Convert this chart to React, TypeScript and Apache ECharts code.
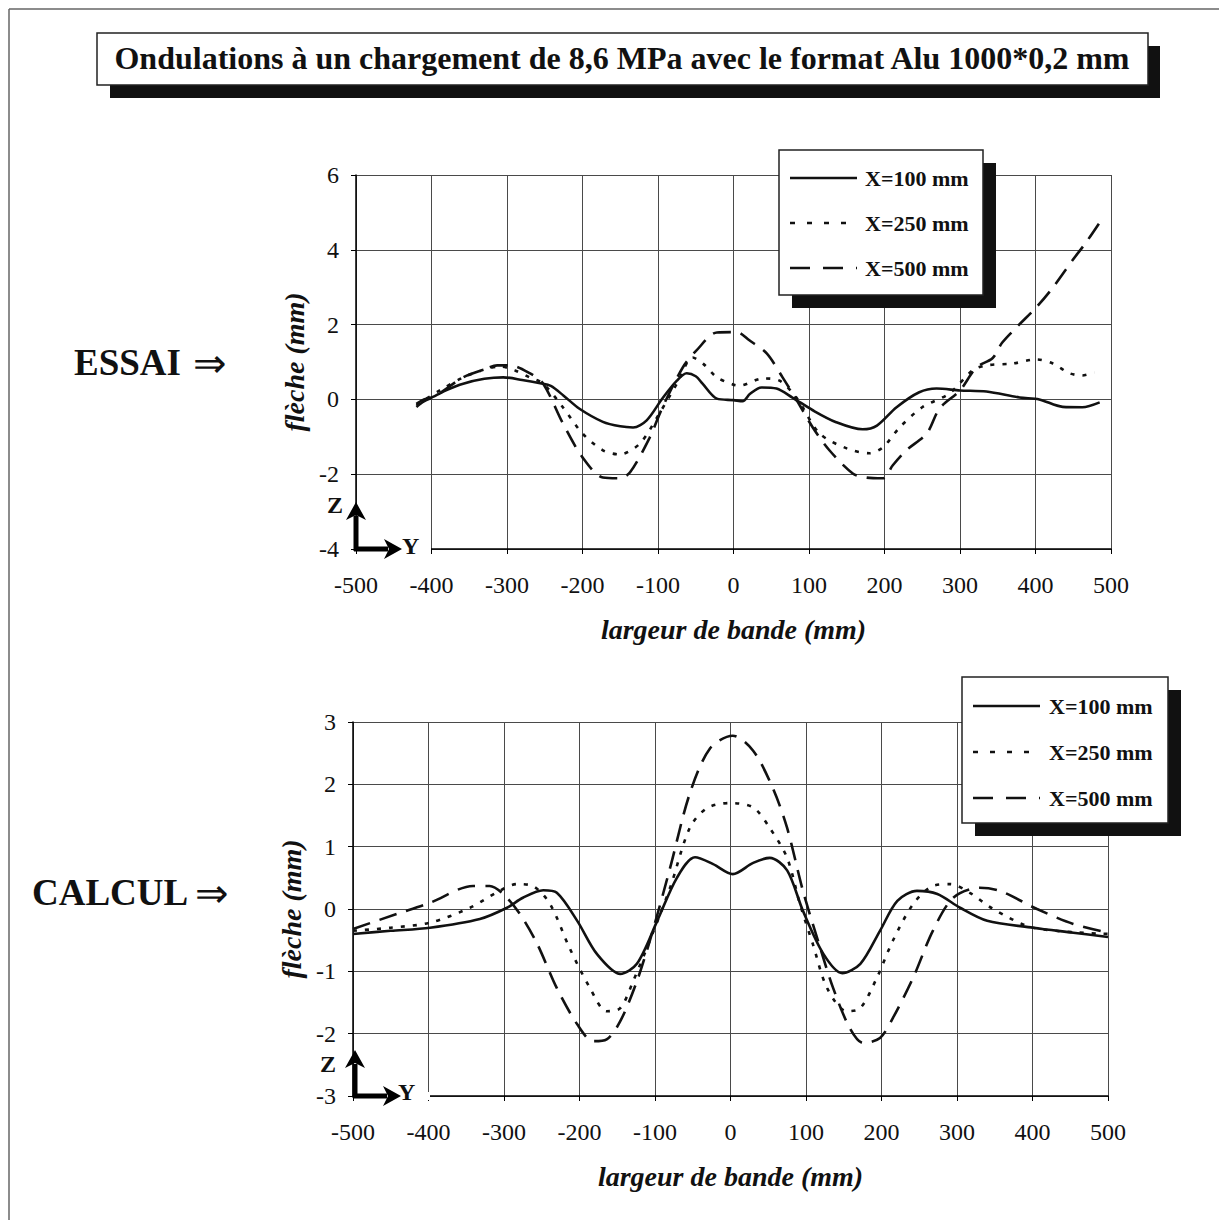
import React, { useEffect, useRef } from "react";
import * as echarts from "echarts";

const TITLE = "Ondulations à un chargement de 8,6 MPa avec le format Alu 1000*0,2 mm";
const SERIES_NAMES = ["X=100 mm", "X=250 mm", "X=500 mm"];
const X_AXIS_NAME = "largeur de bande (mm)";
const Y_AXIS_NAME = "flèche (mm)";

// ESSAI (measured)
const essai100: [number, number][] = [
  [-420, -0.12], [-410, 0.0], [-400, 0.05], [-380, 0.25], [-358, 0.42], [-330, 0.55], [-305, 0.59],
  [-280, 0.52], [-256, 0.43], [-242, 0.36], [-225, 0.1], [-204, -0.25], [-173, -0.6], [-150, -0.72],
  [-133, -0.75], [-115, -0.56], [-94, 0.03], [-75, 0.5], [-62, 0.7], [-50, 0.62], [-41, 0.42],
  [-22, 0.02], [0, -0.02], [12, -0.05], [22, 0.15], [37, 0.32], [57, 0.29], [78, 0.05], [105, -0.29],
  [136, -0.61], [171, -0.8], [190, -0.7], [216, -0.21], [246, 0.19], [269, 0.29], [300, 0.24],
  [335, 0.21], [379, 0.05], [405, 0.0], [436, -0.2], [462, -0.21], [485, -0.08],
];
const essai250: [number, number][] = [
  [-420, -0.15], [-410, -0.02], [-389, 0.24], [-358, 0.59], [-330, 0.8], [-309, 0.88], [-290, 0.78],
  [-270, 0.59], [-252, 0.42], [-226, -0.21], [-200, -0.91], [-173, -1.36], [-151, -1.47],
  [-124, -1.18], [-98, -0.37], [-75, 0.42], [-54, 1.12], [-40, 0.95], [-22, 0.59], [-1, 0.4],
  [8, 0.37], [39, 0.56], [61, 0.5], [84, 0.03], [114, -0.91], [150, -1.31], [180, -1.44],
  [198, -1.28], [220, -0.75], [250, -0.21], [286, 0.16], [317, 0.78], [335, 0.91], [370, 0.96],
  [401, 1.07], [423, 0.96], [445, 0.7], [462, 0.64], [478, 0.72],
];
const essai500: [number, number][] = [
  [-420, -0.2], [-410, -0.05], [-393, 0.11], [-358, 0.59], [-330, 0.8], [-313, 0.91], [-296, 0.91],
  [-270, 0.7], [-252, 0.42], [-226, -0.64], [-200, -1.55], [-173, -2.09], [-151, -2.11],
  [-137, -1.95], [-111, -1.02], [-94, -0.21], [-67, 0.86], [-49, 1.31], [-22, 1.79], [4, 1.8],
  [21, 1.58], [44, 1.23], [65, 0.59], [84, -0.03], [105, -0.75], [127, -1.36], [158, -1.98],
  [176, -2.09], [198, -2.11], [211, -1.76], [229, -1.36], [256, -0.91], [273, -0.24], [300, 0.24],
  [322, 0.86], [343, 1.1], [356, 1.52], [375, 1.93], [401, 2.46], [423, 2.99], [449, 3.72],
  [467, 4.2], [485, 4.73],
];

// CALCUL (computed)
const calcul100: [number, number][] = [
  [-500, -0.4], [-450, -0.35], [-398, -0.3], [-332, -0.16], [-296, 0.02], [-275, 0.18], [-248, 0.3],
  [-230, 0.26], [-203, -0.19], [-177, -0.72], [-146, -1.04], [-124, -0.88], [-97, -0.19],
  [-71, 0.5], [-47, 0.83], [-23, 0.72], [3, 0.56], [30, 0.74], [52, 0.82], [75, 0.62], [96, -0.03],
  [123, -0.72], [148, -1.03], [172, -0.88], [198, -0.35], [221, 0.13], [247, 0.29], [274, 0.24],
  [304, 0.02], [340, -0.19], [401, -0.3], [454, -0.38], [500, -0.45],
];
const calcul250: [number, number][] = [
  [-500, -0.35], [-450, -0.3], [-398, -0.22], [-345, 0.02], [-309, 0.27], [-283, 0.4], [-262, 0.37],
  [-239, 0.08], [-213, -0.63], [-186, -1.27], [-164, -1.64], [-146, -1.59], [-129, -1.16],
  [-107, -0.51], [-80, 0.34], [-54, 1.3], [-31, 1.62], [-1, 1.7], [30, 1.63], [52, 1.3], [75, 0.82],
  [92, 0.08], [109, -0.56], [128, -1.27], [154, -1.64], [172, -1.59], [194, -1.1], [215, -0.51],
  [242, 0.08], [268, 0.37], [291, 0.4], [317, 0.26], [348, 0.0], [401, -0.3], [500, -0.4],
];
const calcul500: [number, number][] = [
  [-500, -0.32], [-442, -0.08], [-398, 0.1], [-341, 0.37], [-319, 0.37], [-301, 0.24], [-279, -0.08],
  [-256, -0.56], [-230, -1.27], [-203, -1.85], [-182, -2.12], [-164, -2.09], [-146, -1.8],
  [-124, -1.16], [-103, -0.35], [-80, 0.66], [-54, 1.85], [-27, 2.58], [3, 2.78], [30, 2.54],
  [56, 1.94], [75, 1.3], [96, 0.29], [119, -0.63], [136, -1.27], [158, -1.91], [176, -2.15],
  [198, -2.07], [215, -1.75], [242, -1.1], [268, -0.35], [295, 0.18], [330, 0.34], [357, 0.29],
  [406, 0.0], [454, -0.24], [500, -0.38],
];

const X_MIN = -500, X_MAX = 500, X_STEP = 100;
const Y1_MIN = -4, Y1_MAX = 6, Y1_STEP = 2;
const Y2_MIN = -3, Y2_MAX = 3, Y2_STEP = 1;

const FONT = '"Liberation Serif", "Times New Roman", serif';
const LINE_TYPES: any[] = ["solid", [4, 8], [18, 10]];
const LEGEND_DASH: any[] = [null, [5, 12], [20, 13]];

export default function App() {
  const ref = useRef<HTMLDivElement>(null);
  useEffect(() => {
    document.body.style.margin = "0";
    const chart = echarts.init(ref.current!, undefined, { renderer: "svg" });

    const xAxisBase = (gridIndex: number, nameGap: number) => ({
      gridIndex,
      type: "value",
      min: X_MIN,
      max: X_MAX,
      interval: X_STEP,
      name: X_AXIS_NAME,
      nameLocation: "middle",
      nameGap,
      nameTextStyle: { fontFamily: FONT, fontSize: 28, fontWeight: "bold", fontStyle: "italic", color: "#111" },
      axisLine: { show: true, onZero: false, lineStyle: { color: "#000", width: 1.5 } },
      axisTick: { show: true, length: 5, lineStyle: { color: "#000" } },
      axisLabel: { fontFamily: FONT, fontSize: 24, color: "#111", margin: 24 },
      splitLine: { show: true, lineStyle: { color: "#4a4a4a", width: 1 } },
    });
    const yAxisBase = (gridIndex: number, min: number, max: number, interval: number) => ({
      gridIndex,
      type: "value",
      min,
      max,
      interval,
      name: Y_AXIS_NAME,
      nameLocation: "middle",
      nameGap: 48,
      nameRotate: 90,
      nameTextStyle: { fontFamily: FONT, fontSize: 28, fontWeight: "bold", fontStyle: "italic", color: "#111" },
      axisLine: { show: true, onZero: false, lineStyle: { color: "#000", width: 1.5 } },
      axisTick: { show: true, length: 5, lineStyle: { color: "#000" } },
      axisLabel: { fontFamily: FONT, fontSize: 24, color: "#111", margin: 17 },
      splitLine: { show: true, lineStyle: { color: "#4a4a4a", width: 1 } },
    });

    const mk = (data: [number, number][], idx: number, axis: number) => ({
      type: "line",
      name: SERIES_NAMES[idx],
      xAxisIndex: axis,
      yAxisIndex: axis,
      data,
      symbol: "none",
      showSymbol: false,
      smooth: 0.3,
      lineStyle: { color: "#111", width: 2.6, type: LINE_TYPES[idx] },
      itemStyle: { color: "#111" },
      z: 2,
    });

    const legendBox = (bx: number, by: number, w: number, h: number, lineX: number, textX: number, ys: number[]) => {
      const els: any[] = [
        { type: "rect", z: 3, shape: { x: bx + 13, y: by + 13, width: w, height: h }, style: { fill: "#111" } },
        { type: "rect", z: 3, shape: { x: bx, y: by, width: w, height: h }, style: { fill: "#fff", stroke: "#222", lineWidth: 1.5 } },
      ];
      SERIES_NAMES.forEach((name, i) => {
        const st: any = { stroke: "#111", lineWidth: 2.6 };
        if (LEGEND_DASH[i]) st.lineDash = LEGEND_DASH[i];
        els.push({ type: "line", z: 4, shape: { x1: lineX, y1: ys[i], x2: lineX + 67, y2: ys[i] }, style: st });
        els.push({ type: "text", z: 4, style: { text: name, x: textX, y: ys[i], font: `bold 22px ${FONT}`, fill: "#111", textAlign: "left", textVerticalAlign: "middle" } });
      });
      return els;
    };

    const arrowGroup = (ox: number, oy: number, ztop: number, zLabel: [number, number], yLabel: [number, number]) => [
      { type: "rect", z: 8, shape: { x: ox + 3, y: oy - 4, width: 72, height: 8 }, style: { fill: "#fff" } },
      { type: "line", z: 10, shape: { x1: ox, y1: oy + 2, x2: ox, y2: ztop + 14 }, style: { stroke: "#000", lineWidth: 5 } },
      { type: "polygon", z: 10, shape: { points: [[ox, ztop], [ox - 10, ztop + 18], [ox, ztop + 13], [ox + 10, ztop + 18]] }, style: { fill: "#000" } },
      { type: "line", z: 10, shape: { x1: ox - 2, y1: oy, x2: ox + 32, y2: oy }, style: { stroke: "#000", lineWidth: 5 } },
      { type: "polygon", z: 10, shape: { points: [[ox + 46, oy], [ox + 28, oy - 10], [ox + 33, oy], [ox + 28, oy + 10]] }, style: { fill: "#000" } },
      { type: "text", z: 10, style: { text: "Z", x: zLabel[0], y: zLabel[1], font: `bold 24px ${FONT}`, fill: "#111", textAlign: "left", textVerticalAlign: "middle" } },
      { type: "text", z: 10, style: { text: "Y", x: yLabel[0], y: yLabel[1], font: `bold 24px ${FONT}`, fill: "#111", textAlign: "left", textVerticalAlign: "middle" } },
    ];

    const sideLabel = (word: string, x: number, arrowX: number, y: number) => [
      { type: "text", z: 4, style: { text: word, x, y, font: `bold 37px ${FONT}`, fill: "#111", textAlign: "left", textVerticalAlign: "middle" } },
      { type: "text", z: 4, style: { text: "⇒", x: arrowX, y: y + 1, font: `40px ${FONT}`, fill: "#111", textAlign: "left", textVerticalAlign: "middle" } },
    ];

    const option: any = {
      animation: false,
      backgroundColor: "#fff",
      grid: [
        { left: 356, top: 175, width: 755, height: 374 },
        { left: 353, top: 722, width: 755, height: 374 },
      ],
      xAxis: [xAxisBase(0, 66), xAxisBase(1, 66)],
      yAxis: [yAxisBase(0, Y1_MIN, Y1_MAX, Y1_STEP), yAxisBase(1, Y2_MIN, Y2_MAX, Y2_STEP)],
      series: [
        mk(essai100, 0, 0), mk(essai250, 1, 0), mk(essai500, 2, 0),
        mk(calcul100, 0, 1), mk(calcul250, 1, 1), mk(calcul500, 2, 1),
      ],
      graphic: [
        { type: "line", z: 1, shape: { x1: 9, y1: 9, x2: 1219, y2: 9 }, style: { stroke: "#666", lineWidth: 1.5 } },
        { type: "line", z: 1, shape: { x1: 9, y1: 9, x2: 9, y2: 1220 }, style: { stroke: "#666", lineWidth: 1.5 } },
        { type: "rect", z: 3, shape: { x: 110, y: 46, width: 1050, height: 52 }, style: { fill: "#111" } },
        { type: "rect", z: 3, shape: { x: 97, y: 33, width: 1051, height: 52 }, style: { fill: "#fff", stroke: "#222", lineWidth: 1.5 } },
        { type: "text", z: 4, style: { text: TITLE, x: 622, y: 58, font: `bold 32px ${FONT}`, fill: "#111", textAlign: "center", textVerticalAlign: "middle" } },
        ...legendBox(779, 150, 204, 145, 790, 865, [178, 223, 268]),
        ...legendBox(962, 677, 206, 146, 973, 1049, [706, 752, 798]),
        ...sideLabel("ESSAI", 74, 193, 362),
        ...sideLabel("CALCUL", 32, 195, 892),
        ...arrowGroup(356, 549, 502, [327, 505], [402, 546]),
        ...arrowGroup(355, 1096, 1050, [320, 1064], [398, 1092]),
      ],
    };
    chart.setOption(option);
    return () => chart.dispose();
  }, []);
  return <div ref={ref} style={{ width: 1219, height: 1220 }} />;
}
